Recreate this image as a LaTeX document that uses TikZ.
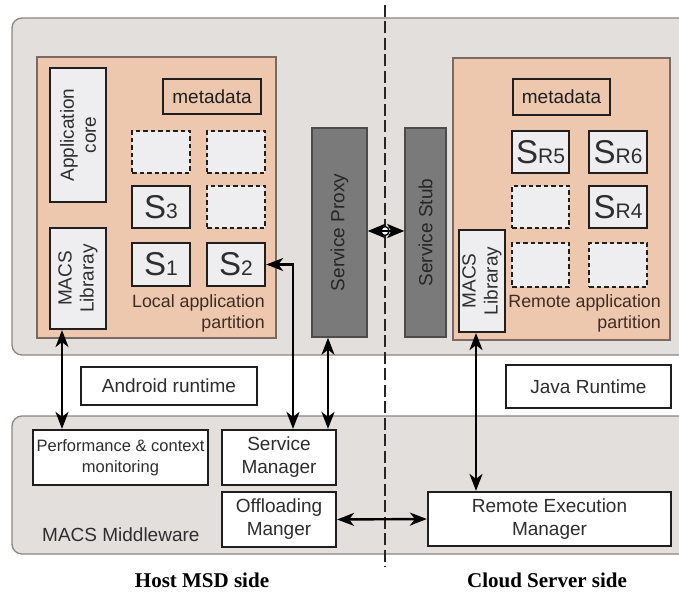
\documentclass[tikz,border=0pt]{standalone}
\usepackage{fontspec}
\setmainfont{Liberation Sans}
\newfontfamily\sidefont{Liberation Serif}
\usetikzlibrary{arrows.meta,shapes.geometric}

\definecolor{panelgray}{HTML}{E3DFDD}
\definecolor{panelline}{HTML}{8C8784}
\definecolor{peach}{HTML}{EDC8AF}
\definecolor{peachline}{HTML}{7A6A62}
\definecolor{boxfill}{HTML}{EEEEF0}
\definecolor{darkfill}{HTML}{7A7A7A}
\definecolor{textdark}{HTML}{2E2E2E}
\definecolor{parttext}{HTML}{3E2C24}

% service label: large S with a smaller baseline index
\newcommand\svclabel[1]{{\fontsize{33}{33}\selectfont S}{\fontsize{21}{21}\selectfont #1}}

\begin{document}
\begin{tikzpicture}[x=1pt,y=-1pt,
  panel/.style={draw=panelline, line width=1.3pt, fill=panelgray, rounded corners=10pt},
  partition/.style={draw=peachline, line width=1.2pt, fill=peach, inner sep=0pt},
  plainbox/.style={draw=black!88, line width=2.2pt, fill=white, inner sep=0pt,
    text=textdark, font=\fontsize{19}{23}\selectfont, align=center},
  greybox/.style={draw=black!88, line width=2.2pt, fill=boxfill, inner sep=0pt,
    text=textdark, font=\fontsize{19}{22}\selectfont, align=center},
  svcbox/.style={draw=black!88, line width=2.4pt, fill=boxfill, inner sep=0pt,
    minimum width=58pt, minimum height=42pt, text=textdark},
  emptybox/.style={draw=black!88, line width=2pt, dash pattern=on 4.5pt off 3pt,
    fill=boxfill, inner sep=0pt, minimum width=58pt, minimum height=42pt},
  metabox/.style={draw=black!88, line width=2.2pt, fill=peach, inner sep=0pt,
    text=black!88, font=\fontsize{19}{19}\selectfont},
  stackbox/.style={draw=black!70, line width=1.5pt, fill=darkfill, inner sep=0pt},
  vtext/.style={rotate=90, align=center, text=textdark, font=\fontsize{19}{22}\selectfont},
  parttxt/.style={align=right, text=parttext, font=\fontsize{17.8}{21}\selectfont, inner sep=0pt},
  sidetxt/.style={font=\sidefont\bfseries\fontsize{21}{21}\selectfont},
  biarr/.style={line width=2.4pt, {Stealth[length=17pt,width=13pt,inset=5pt]}-{Stealth[length=17pt,width=13pt,inset=5pt]}},
  sidearr/.style={line width=2.4pt, {Stealth[length=17pt,width=14pt,inset=4pt]}-{Stealth[length=17pt,width=14pt,inset=4pt]}}
]
\useasboundingbox (0,0) rectangle (679,593);
\fill[white] (0,0) rectangle (679,593);
\clip (0,0) rectangle (679,593);

% application layer and middleware panels
\draw[panel] (12,18) rectangle (700,355);
\draw[panel] (12,416) rectangle (700,554);

% ---------- host side: local application partition ----------
\node[partition, minimum width=239pt, minimum height=281pt] (lpart) at (156.5,197.5) {};
\node[greybox, minimum width=56pt, minimum height=134pt] (core) at (78,135) {};
\node[vtext] (coretxt) at (core) {Application\\core};
\node[greybox, minimum width=56pt, minimum height=101pt] (libL) at (78,278.5) {};
\node[vtext] (libLtxt) at (libL) {MACS\\Libraray};
\node[metabox, minimum width=98pt, minimum height=35pt] (metaL) at (212,96.5) {metadata};
\node[emptybox] (eL1) at (161,152) {};
\node[emptybox] (eL2) at (236,152) {};
\node[svcbox] (S3) at (161,207) {\svclabel{3}};
\node[emptybox] (eL3) at (236,207) {};
\node[svcbox, minimum height=43pt] (S1) at (161,264.5) {\svclabel{1}};
\node[svcbox, minimum height=43pt] (S2) at (236,264.5) {\svclabel{2}};
\node[parttxt, anchor=east] (lparttxt) at (265,313) {Local application\\partition};

% ---------- proxy and stub ----------
\node[stackbox, minimum width=55pt, minimum height=209pt] (proxy) at (339.5,232.5) {};
\node[vtext, text=black!85] (proxytxt) at (proxy) {Service Proxy};
\node[stackbox, minimum width=41pt, minimum height=209pt] (stub) at (425.5,232.5) {};
\node[vtext, text=black!85] (stubtxt) at (stub) {Service Stub};

% ---------- cloud side: remote application partition ----------
\node[partition, minimum width=217pt, minimum height=282pt] (rpart) at (561.5,199) {};
\node[metabox, minimum width=97pt, minimum height=36pt] (metaR) at (561.5,97) {metadata};
\node[svcbox, minimum width=57pt] (SR5) at (540.5,152) {\svclabel{R5}};
\node[svcbox] (SR6) at (618,152) {\svclabel{R6}};
\node[emptybox, minimum width=57pt] (eR1) at (540.5,207) {};
\node[svcbox] (SR4) at (618,207) {\svclabel{R4}};
\node[emptybox, minimum width=57pt, minimum height=44pt] (eR2) at (540.5,265) {};
\node[emptybox, minimum height=44pt] (eR3) at (618,265) {};
\node[greybox, minimum width=46pt, minimum height=102pt] (libR) at (482,281) {};
\node[vtext] (libRtxt) at (libR) {MACS\\Libraray};
\node[parttxt, anchor=east] (rparttxt) at (661,313) {Remote application\\partition};

% ---------- runtimes ----------
\node[plainbox, minimum width=176pt, minimum height=38pt] (android) at (169,386) {Android runtime};
\node[plainbox, minimum width=165pt, minimum height=43pt] (java) at (588.5,386.5) {Java Runtime};

% ---------- middleware ----------
\node[plainbox, minimum width=175pt, minimum height=55pt, font=\fontsize{16.5}{21}\selectfont] (perf) at (120.5,457.5) {Performance \& context\\monitoring};
\node[plainbox, minimum width=114pt, minimum height=55pt] (sman) at (279,457.5) {Service\\Manager};
\node[plainbox, minimum width=114pt, minimum height=55pt] (off) at (279,519.5) {Offloading\\Manger};
\node[plainbox, minimum width=243pt, minimum height=54pt] (rem) at (549.5,519) {Remote Execution\\Manager};
\node[anchor=west, inner sep=0pt, text=textdark, font=\fontsize{19}{19}\selectfont] (mwtxt) at (42,535) {MACS Middleware};

% host / cloud boundary
\coordinate (bndtop) at (385,5);
\coordinate (bndbot) at (385,567);
\draw[line width=2.2pt, draw=black!85, dash pattern=on 12pt off 4.5pt] (bndtop) -- (bndbot);

% ---------- connectors ----------
\draw[biarr] ([xshift=-16pt]libL.south) -- ([xshift=-16pt]libL.south |- perf.north);
\draw[biarr] (S2.east) -| ([xshift=14pt]sman.north);
\draw[biarr] ([xshift=-11.5pt]proxy.south) -- ([xshift=-11.5pt]proxy.south |- sman.north);
\draw[biarr] ([xshift=-6pt]libR.south) -- ([xshift=-6pt]libR.south |- rem.north);
\draw[biarr] (off.east) -- (rem.west);
\node[draw, fill=white, line width=1.4pt, ellipse, minimum width=8pt, minimum height=9pt, inner sep=0pt] (cross) at (385,231) {};
\draw[sidearr] (proxy.east |- cross) -- (stub.west |- cross);

% side captions
\node[sidetxt] (hostside) at (202,580) {Host MSD side};
\node[sidetxt] (cloudside) at (547,580) {Cloud Server side};
\end{tikzpicture}
\end{document}
